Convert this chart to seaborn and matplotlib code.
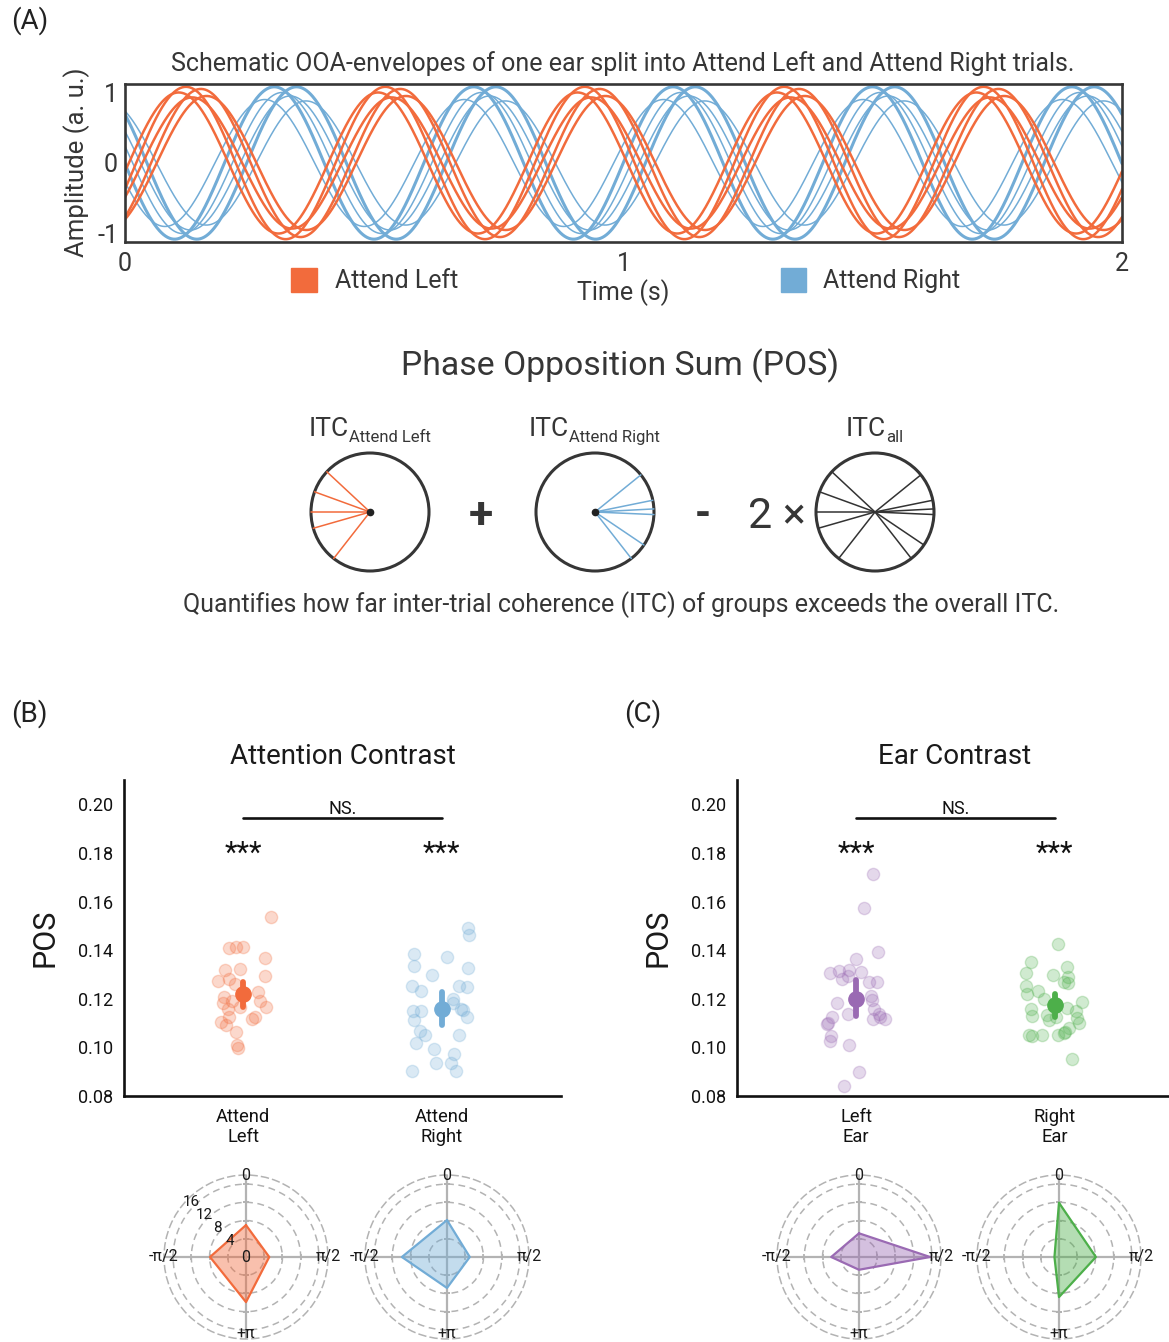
import numpy as np
import matplotlib
matplotlib.use("Agg")
import matplotlib.pyplot as plt
import seaborn as sns
import pandas as pd
from matplotlib.patches import Circle, Rectangle

# ---------------- data ----------------
wave_freq_hz = 2.5
left_wave_phase = [-0.12, -0.35, -0.55, -0.82, -1.0]
left_wave_amp = [1.0, 1.08, 0.93, 1.05, 0.95]
right_wave_phase = [2.15, 2.45, 2.65, 2.9, 3.15, 3.45]
right_wave_amp = [0.88, 1.08, 0.95, 1.0, 1.08, 0.9]
right_wave_thick = [False, True, False, False, True, False]

itc_left_angles = [137, 160, 180, 196, 232]
itc_right_angles = [39, 11.5, 3, -2.5, -34, -52]

att_categories = ["Attend\nLeft", "Attend\nRight"]
ear_categories = ["Left\nEar", "Right\nEar"]

attend_left_pos = [0.1537, 0.1409, 0.1412, 0.1412, 0.1368, 0.1317, 0.1322, 0.1274, 0.1281, 0.1260,
                   0.1292, 0.1226, 0.1206, 0.1182, 0.1192, 0.1192, 0.1168, 0.1168, 0.1157, 0.1127,
                   0.1127, 0.1116, 0.1105, 0.1091, 0.1063, 0.1010, 0.0999]
attend_left_jit = [0.138, -0.072, -0.038, -0.003, 0.109, -0.091, -0.014, -0.129, -0.072, -0.043,
                   0.110, 0.074, -0.095, -0.103, -0.057, 0.086, -0.017, 0.117, -0.078, -0.072,
                   0.057, 0.043, -0.112, -0.086, -0.038, -0.029, -0.026]
attend_right_pos = [0.1491, 0.1461, 0.1384, 0.1370, 0.1333, 0.1325, 0.1299, 0.1254, 0.1251, 0.1247,
                    0.1233, 0.1199, 0.1182, 0.1151, 0.1151, 0.1159, 0.1155, 0.1113, 0.1124, 0.1069,
                    0.1052, 0.1049, 0.1020, 0.0992, 0.0972, 0.0935, 0.0937, 0.0904, 0.0904]
attend_right_jit = [0.134, 0.138, -0.141, 0.028, -0.141, 0.134, -0.048, -0.152, 0.086, 0.126,
                    -0.107, 0.057, 0.057, -0.143, -0.107, 0.095, 0.107, -0.141, 0.126, -0.112,
                    -0.086, 0.086, -0.129, -0.038, 0.062, -0.029, 0.048, -0.148, 0.069]
left_ear_pos = [0.1715, 0.1574, 0.1391, 0.1364, 0.1306, 0.1313, 0.1320, 0.1310, 0.1281, 0.1292,
                0.1267, 0.1269, 0.1212, 0.1196, 0.1182, 0.1157, 0.1127, 0.1137, 0.1137, 0.1116,
                0.1127, 0.1116, 0.1097, 0.1102, 0.1045, 0.1028, 0.1010, 0.0898, 0.0841]
left_ear_jit = [0.084, 0.037, 0.111, 0.0, -0.132, -0.088, -0.037, 0.025, -0.071, -0.042,
                0.064, 0.106, 0.076, 0.081, -0.096, 0.088, -0.122, -0.042, 0.115, 0.084,
                0.122, 0.144, -0.147, -0.144, -0.127, -0.130, -0.037, 0.014, -0.059]
right_ear_pos = [0.1425, 0.1351, 0.1329, 0.1306, 0.1299, 0.1289, 0.1269, 0.1265, 0.1251, 0.1221,
                 0.1230, 0.1200, 0.1185, 0.1157, 0.1164, 0.1151, 0.1130, 0.1134, 0.1127, 0.1120,
                 0.1113, 0.1100, 0.1079, 0.1065, 0.1052, 0.1047, 0.1049, 0.1052, 0.1058, 0.0951]
right_ear_jit = [0.017, -0.122, 0.061, -0.147, -0.007, 0.068, 0.044, 0.064, -0.147, -0.139,
                 -0.084, -0.054, 0.135, -0.118, 0.061, 0.106, -0.113, -0.041, 0.005, 0.111,
                 -0.029, 0.122, 0.073, 0.051, -0.130, -0.113, -0.063, 0.014, 0.044, 0.084]

group_mean = [0.1221, 0.1159, 0.1201, 0.1174]
group_ci_lo = [0.1166, 0.1093, 0.1130, 0.1127]
group_ci_hi = [0.1271, 0.1226, 0.1276, 0.1221]
ns_level = 0.1942
star_level = 0.1762

polar_angles = [0, np.pi / 2, np.pi, 3 * np.pi / 2]
polar_angle_labels = ["0", "π/2", "+π", "-π/2"]
polar_r_ticks = [4, 8, 12, 16]
attend_left_polar = [7.0, 5.1, 9.9, 7.9]
attend_right_polar = [8.1, 5.0, 6.8, 9.9]
left_ear_polar = [5.2, 15.6, 2.8, 6.1]
right_ear_polar = [11.9, 8.1, 8.8, 1.0]

C_OR = "#F26B3C"
C_BL = "#72ACD6"
C_PU = "#9A6AB3"
C_GR = "#4DAF4A"
TXT = "#363636"
DK = "#1a1a1a"

# ---------------- setup ----------------
W, H = 1169, 1342
sns.set_theme(style="white")
plt.rcParams["font.family"] = ["Roboto", "DejaVu Sans"]

fig = plt.figure(figsize=(W / 100, H / 100), dpi=100)
fig.patch.set_facecolor("white")


def px_axes(x0, y0, x1, y1, **kw):
    return fig.add_axes([x0 / W, 1 - y1 / H, (x1 - x0) / W, (y1 - y0) / H], **kw)


# overlay for free text/shapes (pixel coords)
ov = fig.add_axes([0, 0, 1, 1])
ov.set_xlim(0, W)
ov.set_ylim(H, 0)
ov.axis("off")
ov.patch.set_alpha(0)
ov.set_zorder(10)

# ---------------- Panel A waves ----------------
axw = px_axes(125, 84, 1122, 242)
t = np.linspace(0, 2, 1500)
for ph, a, thick in zip(right_wave_phase, right_wave_amp, right_wave_thick):
    sns.lineplot(x=t, y=a * np.sin(2 * np.pi * wave_freq_hz * t + ph), ax=axw,
                 color=C_BL, lw=2.2 if thick else 1.1, estimator=None)
for ph, a in zip(left_wave_phase, left_wave_amp):
    sns.lineplot(x=t, y=a * np.sin(2 * np.pi * wave_freq_hz * t + ph), ax=axw,
                 color=C_OR, lw=1.8, estimator=None)
axw.set_xlim(0, 2)
axw.set_ylim(-1.12, 1.12)
axw.set_xticks([0, 1, 2])
axw.set_xticklabels(["0", "1", "2"])
axw.set_yticks([-1, 0, 1])
axw.set_yticklabels(["-1", "0", "1"])
axw.tick_params(axis="both", direction="in", length=7, width=1.8, colors=TXT, labelsize=18)
axw.tick_params(axis="x", pad=7)
axw.tick_params(axis="y", pad=5)
for s in axw.spines.values():
    s.set_visible(True)
    s.set_linewidth(1.9)
    s.set_color(TXT)
axw.set_xlabel("")
axw.set_ylabel("")

ov.text(623, 64, "Schematic OOA-envelopes of one ear split into Attend Left and Attend Right trials.",
        ha="center", va="center", fontsize=18, color=TXT)
ov.text(77, 162, "Amplitude (a. u.)", rotation=90, ha="center", va="center", fontsize=18.5, color=TXT)
ov.text(623, 293, "Time (s)", ha="center", va="center", fontsize=18, color=TXT)
ov.add_patch(Rectangle((291, 268), 26, 24, color=C_OR))
ov.text(335, 281, "Attend Left", ha="left", va="center", fontsize=18, color=TXT)
ov.add_patch(Rectangle((781, 268), 25, 24, color=C_BL))
ov.text(823, 281, "Attend Right", ha="left", va="center", fontsize=18, color=TXT)
ov.text(11, 21, "(A)", ha="left", va="center", fontsize=20, color="#222222")

# ---------------- POS schematic ----------------
ov.text(620, 366, "Phase Opposition Sum (POS)", ha="center", va="center", fontsize=24.3, color=TXT)
R = 59
cy = 512
for cx, split, sub, groups in [
    (370, 348, "Attend Left", [(itc_left_angles, C_OR)]),
    (595, 568, "Attend Right", [(itc_right_angles, C_BL)]),
    (875, 885, "all", [(itc_left_angles, "#333333"), (itc_right_angles, "#333333")]),
]:
    ov.text(split + 1, 436, "ITC", ha="right", va="baseline", fontsize=19, color=TXT)
    ov.text(split + 1, 442, sub, ha="left", va="baseline", fontsize=12, color=TXT)
    ov.add_patch(Circle((cx, cy), R, fill=False, lw=2.2, ec=TXT))
    for angs, col in groups:
        for a in angs:
            th = np.deg2rad(a)
            ov.plot([cx, cx + R * np.cos(th)], [cy, cy - R * np.sin(th)], color=col, lw=1.1)
    if cx != 875:
        ov.plot(cx, cy, "o", ms=4.5, color="#222222")
ov.text(481, 516, "+", ha="center", va="center", fontsize=32, color=TXT, fontweight="bold")
ov.text(703, 516, "-", ha="center", va="center", fontsize=30, color=TXT, fontweight="bold")
ov.text(777, 516, "2 ×", ha="center", va="center", fontsize=31, color=TXT)
ov.text(621, 605, "Quantifies how far inter-trial coherence (ITC) of groups exceeds the overall ITC.",
        ha="center", va="center", fontsize=18, color=TXT)

# ---------------- Panels B & C ----------------
ov.text(11, 714, "(B)", ha="left", va="center", fontsize=20, color="#222222")
ov.text(624, 714, "(C)", ha="left", va="center", fontsize=20, color="#222222")
ov.text(343, 757, "Attention Contrast", ha="center", va="center", fontsize=20, color=DK)
ov.text(955, 757, "Ear Contrast", ha="center", va="center", fontsize=20, color=DK)
ov.text(45, 938, "POS", rotation=90, ha="center", va="center", fontsize=22, color=DK)
ov.text(658, 938, "POS", rotation=90, ha="center", va="center", fontsize=22, color=DK)

panels = [
    ((124, 780, 561, 1096), att_categories,
     [(attend_left_pos, attend_left_jit, C_OR), (attend_right_pos, attend_right_jit, C_BL)], 0),
    ((737, 780, 1174, 1096), ear_categories,
     [(left_ear_pos, left_ear_jit, C_PU), (right_ear_pos, right_ear_jit, C_GR)], 2),
]
for box, cats, groups, mi in panels:
    ax = px_axes(*box)
    ax.patch.set_alpha(0)
    for i, (vals, jit, col) in enumerate(groups):
        df = pd.DataFrame({"x": i + np.asarray(jit), "y": vals})
        sns.scatterplot(data=df, x="x", y="y", ax=ax, color=col, alpha=0.26, s=78,
                        edgecolor=col, linewidth=1.0, legend=False)
        ax.plot([i, i], [group_ci_lo[mi + i], group_ci_hi[mi + i]], color=col, lw=4.2,
                solid_capstyle="round", zorder=5)
        ax.plot([i], [group_mean[mi + i]], "o", ms=11, color=col, zorder=6)
        ax.text(i, star_level, "***", ha="center", va="baseline", fontsize=21, color="#111111")
    ax.plot([0, 1], [ns_level, ns_level], color="#111111", lw=1.9)
    ax.text(0.5, ns_level + 0.0001, "NS.", ha="center", va="bottom", fontsize=13, color="#111111")
    ax.set_xlim(-0.6, 1.6)
    ax.set_ylim(0.08, 0.21)
    ax.set_xticks([0, 1])
    ax.set_xticklabels(cats, fontsize=13.2, color=DK, linespacing=1.1)
    ax.set_yticks([0.08, 0.10, 0.12, 0.14, 0.16, 0.18, 0.20])
    ax.set_yticklabels([f"{v:.2f}" for v in [0.08, 0.10, 0.12, 0.14, 0.16, 0.18, 0.20]],
                       fontsize=13, color=DK)
    ax.tick_params(axis="both", direction="out", length=5, width=1.5, colors="#111111", pad=3)
    ax.tick_params(axis="x", pad=4)
    for s in ["top", "right"]:
        ax.spines[s].set_visible(False)
    for s in ["left", "bottom"]:
        ax.spines[s].set_linewidth(1.9)
        ax.spines[s].set_color("#111111")
    ax.set_xlabel("")
    ax.set_ylabel("")

# ---------------- polar insets ----------------
polar_sets = [(246, attend_left_polar, C_OR, True), (447, attend_right_polar, C_BL, False),
              (859, left_ear_polar, C_PU, False), (1059, right_ear_polar, C_GR, False)]
GRID = "#b3b3b3"
for cx, vals, col, show_r in polar_sets:
    pr = 82
    pax = px_axes(cx - pr, 1257 - pr, cx + pr, 1257 + pr, projection="polar")
    pax.set_theta_zero_location("N")
    pax.set_theta_direction(-1)
    pax.set_ylim(0, 18)
    pax.set_xticks(polar_angles)
    pax.set_xticklabels([])
    pax.set_yticks(polar_r_ticks)
    pax.set_yticklabels([])
    for th, lab in zip(polar_angles, polar_angle_labels):
        rr = 16.7 if lab == "+π" else 18
        pax.text(th, rr, lab, ha="center", va="center", fontsize=11.5, color=DK,
                 zorder=8, clip_on=False)
    if show_r:
        for rv in polar_r_ticks:
            pax.text(np.deg2rad(-45), rv + 1.0, str(rv), ha="center", va="center",
                     fontsize=11, color=DK, zorder=8)
        pax.text(0, 0, "0", ha="center", va="center", fontsize=11.5, color=DK, zorder=8)
    pax.yaxis.grid(True, color=GRID, lw=1.1, ls=(0, (4.5, 3)))
    pax.xaxis.grid(True, color=GRID, lw=1.6, ls="-")
    pax.spines["polar"].set_linestyle((0, (4.5, 3)))
    pax.spines["polar"].set_color(GRID)
    pax.spines["polar"].set_linewidth(1.1)
    pax.patch.set_alpha(0)
    for th in polar_angles:
        mk = "_" if th in (0, np.pi) else "|"
        pax.plot([th] * len(polar_r_ticks), polar_r_ticks, ls="none", marker=mk, ms=5,
                 mew=1.3, color=GRID, zorder=3)
    th_closed = polar_angles + [polar_angles[0]]
    r_closed = list(vals) + [vals[0]]
    pax.fill(th_closed, r_closed, color=col, alpha=0.42, lw=0, zorder=4)
    pax.plot(th_closed, r_closed, color=col, lw=1.6, zorder=5)

fig.savefig("out.png", dpi=100, facecolor="white")
